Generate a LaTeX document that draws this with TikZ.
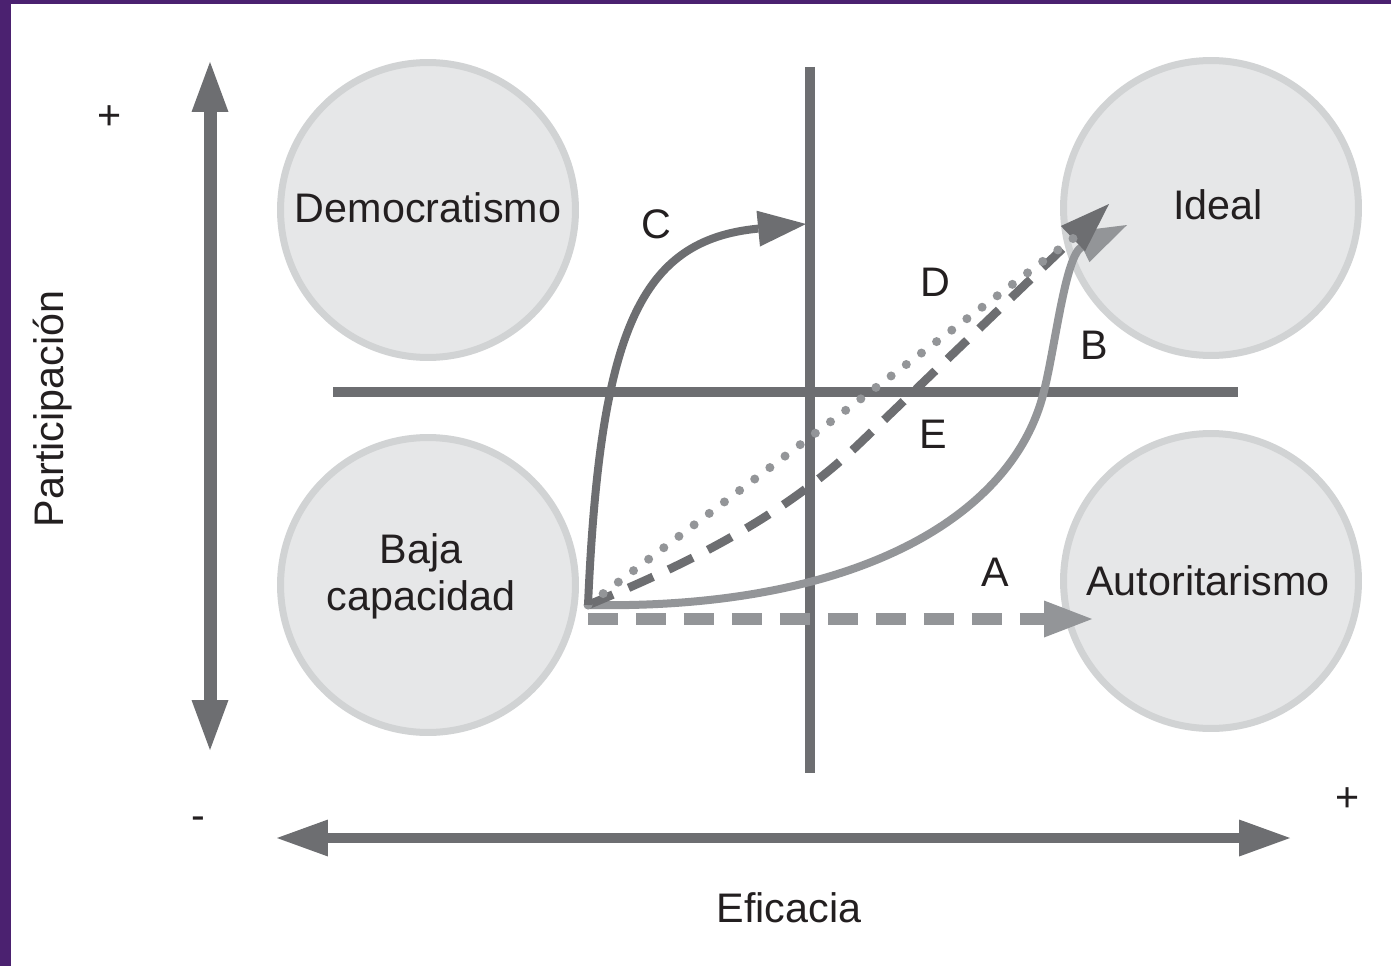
\documentclass[tikz,border=0pt]{standalone}
\usepackage{fontspec}
\setmainfont{Liberation Sans}
\usetikzlibrary{arrows.meta}

\definecolor{frame}{HTML}{4B2170}
\definecolor{darkline}{HTML}{6D6E71}
\definecolor{lightline}{HTML}{939598}
\definecolor{zonefill}{HTML}{E6E7E8}
\definecolor{zoneedge}{HTML}{D1D3D4}
\definecolor{ink}{HTML}{231F20}

\begin{document}
\begin{tikzpicture}[x=0.02cm, y=-0.02cm,
    zone/.style ={circle, draw=zoneedge, fill=zonefill, line width=0.14cm, minimum size=5.9cm, inner sep=0pt},
    word/.style ={font=\fontsize{23.5}{26.6}\selectfont, text=ink, inner sep=0pt, align=center},
    cross/.style ={draw=darkline, line width=0.19cm}]
   \useasboundingbox (0,0) rectangle (1391,966);
   \fill[frame] (0,0) rectangle (1391,966);
   \fill[white] (11,4) rectangle (1391,966);

   \node[zone] (demo)  at (428,210)  {};
   \node[zone] (baja)  at (428,585)  {};
   \node[zone] (ideal) at (1211,208) {};
   \node[zone] (auto)  at (1211,581) {};

   \node[word, anchor=base] (demoT)  at (428,222)  {Democratismo};
   \node[word, anchor=base] (idealT) at (1218,219) {Ideal};
   \node[word, anchor=base] (autoT)  at (1208,595) {Autoritarismo};
   \node[word] (bajaT) at (421,576) {Baja\\capacidad};

   \node[word] (plusP)  at (110,118)  {+};
   \node[word] (minus)  at (198,823)  {-};
   \node[word] (plusE)  at (1348,800) {+};
   \node[word, rotate=90, anchor=base] (partT) at (63,409) {Participación};
   \node[word, anchor=base] (efT) at (789,922) {Eficacia};

   \node[word] (labA) at (995,572) {A};
   \node[word] (labB) at (1094,345) {B};
   \node[word] (labC) at (656,224) {C};
   \node[word] (labD) at (935,282) {D};
   \node[word] (labE) at (933,434) {E};

   \coordinate (vTop)   at (210,62);
   \coordinate (vBot)   at (210,750);
   \coordinate (hLeft)  at (277,838);
   \coordinate (hRight) at (1290,838);
   \coordinate (crossT) at (810,67);
   \coordinate (crossB) at (810,773);
   \coordinate (crossL) at (333,392);
   \coordinate (crossR) at (1238,392);
   \coordinate (start)  at (588,605);
   \coordinate (startA) at (588,619);
   \coordinate (tipA)   at (1092,619);
   \coordinate (tipB)   at (1127,225);
   \coordinate (tipC)   at (806,224);
   \coordinate (endD)   at (1075,237);
   \coordinate (tipE)   at (1109,204);

   % axes
   \draw[darkline, line width=0.26cm,
     {Triangle[length=1cm, width=0.74cm, line width=0pt]}-{Triangle[length=1cm, width=0.74cm, line width=0pt]}] (vBot) to (vTop);
   \draw[darkline, line width=0.21cm,
     {Triangle[length=1.02cm, width=0.74cm, line width=0pt]}-{Triangle[length=1.02cm, width=0.74cm, line width=0pt]}] (hLeft) to (hRight);

   \draw[cross] (crossT) to (crossB);
   \draw[cross] (crossL) to (crossR);

   % paths A to E
   \draw[lightline, line width=0.23cm, dash pattern=on 0.6cm off 0.36cm,
     -{Triangle[length=0.96cm, width=0.74cm, line width=0pt]}] (startA) to (tipA);
   \draw[lightline, line width=0.16cm, -{Triangle[length=1cm, width=0.68cm, line width=0pt]}]
     (start) .. controls (850,610) and (1010,520) .. (1043,395)
             .. controls (1055,350) and (1065,255) .. (tipB);
   \draw[darkline, line width=0.17cm, dash pattern=on 0.54cm off 0.34cm,
     -{Triangle[length=1cm, width=0.7cm, line width=0pt]}]
     (start) .. controls (680,567) and (780,520) .. (860,443) -- (tipE);
   \draw[lightline, line width=0.18cm, line cap=round, dash pattern=on 0pt off 0.38cm] (start) to (endD);
   \draw[darkline, line width=0.16cm, -{Triangle[length=0.96cm, width=0.72cm, line width=0pt]}]
     (start) .. controls (600,330) and (640,240) .. (tipC);
 \end{tikzpicture}
\end{document}
